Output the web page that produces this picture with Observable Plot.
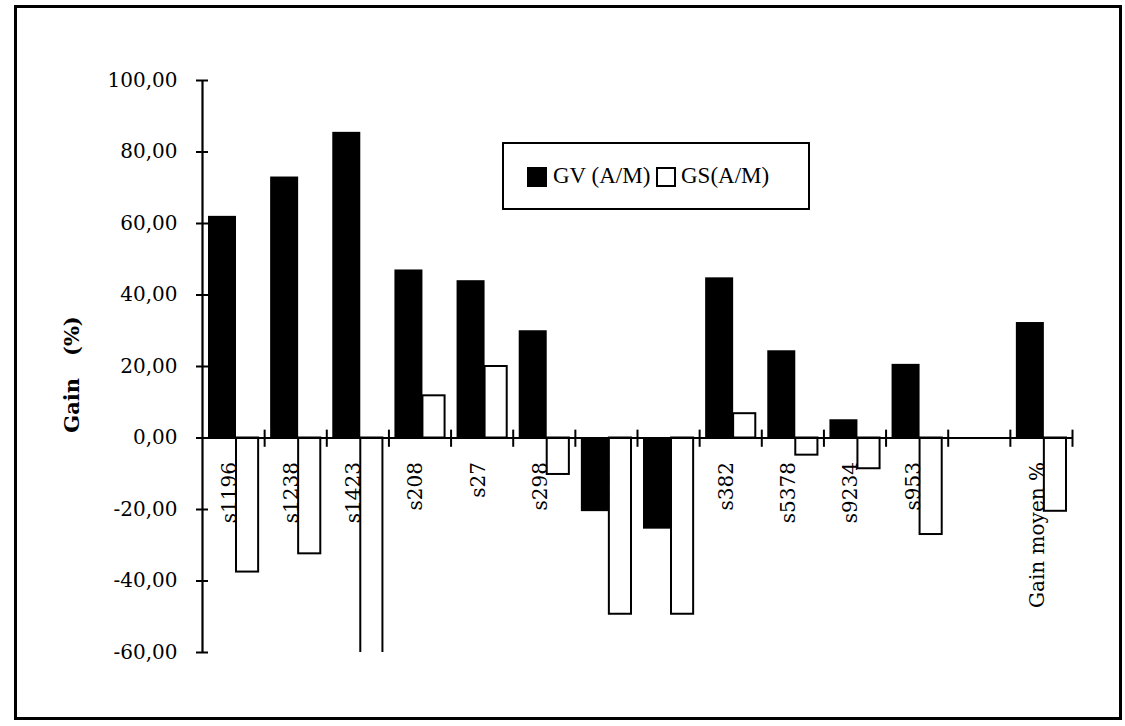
<!DOCTYPE html>
<html><head><meta charset="utf-8">
<script src="https://cdn.jsdelivr.net/npm/d3@7"></script>
<script src="https://cdn.jsdelivr.net/npm/@observablehq/plot@0.6"></script>
<style>
html,body{margin:0;padding:0;background:#fff;}
#wrap{position:relative;width:1125px;height:726px;overflow:hidden;background:#fff;}
#wrap svg{position:absolute;left:0;top:0;}
#frame{position:absolute;left:14px;top:5px;width:1108px;height:715px;box-sizing:border-box;border:3px solid #000;pointer-events:none;}
#legend{position:absolute;left:502px;top:142px;width:308px;height:68px;box-sizing:border-box;border:2.5px solid #000;background:#fff;font-family:"Liberation Serif",serif;font-size:23px;color:#000;}
#legend .sw{position:absolute;top:23px;width:20px;height:20px;box-sizing:border-box;}
#legend .lb{position:absolute;top:19px;line-height:26px;white-space:pre;}
</style></head><body>
<div id="wrap"></div>
<script>
// ---- data ----
const categories = ["s1196","s1238","s1423","s208","s27","s298","s344","s349","s382","s5378","s9234","s953","","Gain moyen %"];
const gvValues = [62, 73, 85.5, 47, 44, 30, -20.6, -25.5, 44.8, 24.4, 5.1, 20.6, null, 32.3];
const gsValues = [-37.5, -32.4, -80, 11.8, 20, -10.2, -49.3, -49.3, 6.8, -4.8, -8.6, -27, null, -20.5];
const yTicks = [-60, -40, -20, 0, 20, 40, 60, 80, 100];
const yTickLabels = ["-60,00","-40,00","-20,00","0,00","20,00","40,00","60,00","80,00","100,00"];
const seriesNames = ["GV (A/M)", "GS(A/M)"];
const yLabel = "Gain\u00a0\u00a0\u00a0(%)";

// ---- layout ----
const W = 1125, H = 726, ML = 202, MR = 53, MT = 80, MB = 74;
const step = (W - ML - MR) / categories.length;

const gvRows = categories.map((c, i) => ({cat: c, v: gvValues[i]})).filter(d => d.v != null);
const gsRows = categories.map((c, i) => ({cat: c, v: gsValues[i]})).filter(d => d.v != null);

const chart = Plot.plot({
  width: W, height: H,
  marginTop: MT, marginBottom: MB, marginLeft: ML, marginRight: MR,
  style: {fontFamily: "DejaVu Serif", fontSize: "20px", color: "#000", background: "transparent"},
  x: {domain: categories, padding: 0, round: false, axis: null},
  y: {domain: [-60, 100], ticks: yTicks, tickFormat: d => yTickLabels[yTicks.indexOf(d)], tickSize: 6, tickPadding: 19, line: true, label: null},
  marks: [
    Plot.ruleX([categories[0]], {x: d => d, y1: () => -60, y2: () => 100, dx: -step / 2, stroke: "#000", strokeWidth: 2.2}),
    Plot.tickY(yTicks, {x: () => categories[0], y: d => d, insetRight: step - 6, stroke: "#000", strokeWidth: 2}),
    Plot.text(categories, {x: d => d, y: () => 0, text: d => d, rotate: -90, textAnchor: "end", dy: 24, dx: -4, fontSize: 20}),
    Plot.text([yLabel], {frameAnchor: "left", textAnchor: "middle", dx: -130, dy: 8, text: d => d, rotate: -90, fontWeight: "bold", fontSize: 21}),
    Plot.barY(gvRows, {x: "cat", y: "v", fill: "#000", insetLeft: 6, insetRight: step - 34}),
    Plot.barY(gsRows, {x: "cat", y: "v", fill: "none", stroke: "#000", strokeWidth: 2, insetLeft: 34, insetRight: 6, clip: true}),
    Plot.ruleY([0], {stroke: "#000", strokeWidth: 2}),
    Plot.ruleX(categories, {x: d => d, y1: () => 2.2, y2: () => -2.6, dx: step / 2, stroke: "#000", strokeWidth: 2})
  ]
});

const wrap = document.getElementById("wrap");
wrap.appendChild(chart);
chart.querySelectorAll('g[aria-label^="y-axis"] path, g[aria-label="y-axis"] line').forEach(e => e.setAttribute("stroke-width", "2"));

// legend
const legend = document.createElement("div");
legend.id = "legend";
const sw1 = document.createElement("div"); sw1.className = "sw"; sw1.style.left = "23px"; sw1.style.background = "#000";
const lb1 = document.createElement("div"); lb1.className = "lb"; lb1.style.left = "49px"; lb1.textContent = seriesNames[0];
const sw2 = document.createElement("div"); sw2.className = "sw"; sw2.style.left = "152px"; sw2.style.border = "2px solid #000"; sw2.style.background = "#fff";
const lb2 = document.createElement("div"); lb2.className = "lb"; lb2.style.left = "177px"; lb2.textContent = seriesNames[1];
legend.append(sw1, lb1, sw2, lb2);
wrap.appendChild(legend);

const frame = document.createElement("div");
frame.id = "frame";
wrap.appendChild(frame);
</script>
</body></html>
